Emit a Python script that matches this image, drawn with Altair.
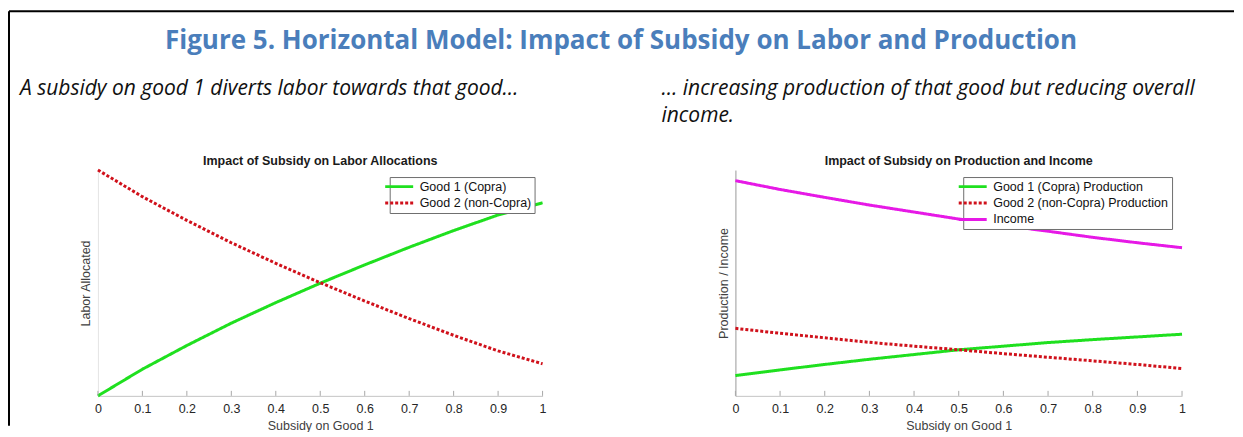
import altair as alt
import pandas as pd

# ---------------- data ----------------
subsidy = [0.0, 0.1, 0.2, 0.3, 0.4, 0.5, 0.6, 0.7, 0.8, 0.9, 1.0]
labor_good1 = [0.0, 0.118, 0.223, 0.322, 0.413, 0.499, 0.580, 0.658, 0.732, 0.801, 0.855]
labor_good2 = [1.0, 0.882, 0.777, 0.678, 0.587, 0.501, 0.420, 0.342, 0.268, 0.199, 0.142]
prod_good1 = [0.090, 0.115, 0.139, 0.162, 0.183, 0.204, 0.220, 0.236, 0.249, 0.261, 0.273]
prod_good2 = [0.299, 0.277, 0.257, 0.237, 0.220, 0.204, 0.187, 0.171, 0.155, 0.139, 0.121]
income = [0.953, 0.914, 0.879, 0.845, 0.814, 0.783, 0.755, 0.729, 0.702, 0.678, 0.656]
x_ticks = [0.0, 0.1, 0.2, 0.3, 0.4, 0.5, 0.6, 0.7, 0.8, 0.9, 1.0]

labor_names = ["Good 1 (Copra)", "Good 2 (non-Copra)"]
prod_names = ["Good 1 (Copra) Production", "Good 2 (non-Copra) Production", "Income"]

main_title = "Figure 5. Horizontal Model: Impact of Subsidy on Labor and Production"
left_caption = "A subsidy on good 1 diverts labor towards that good…"
right_caption_1 = "… increasing production of that good but reducing overall"
right_caption_2 = "income."
left_title = "Impact of Subsidy on Labor Allocations"
right_title = "Impact of Subsidy on Production and Income"

GREEN = "#1fe01f"
RED = "#d0111b"
MAGENTA = "#e619e6"

W1, W2, H = 445, 447, 226
AXFONT = "Liberation Sans"
FS = 12.5
CAPFS = 21


def long_df(names, series):
    rows = []
    for name, vals in zip(names, series):
        for x, v in zip(subsidy, vals):
            rows.append({"x": x, "v": v, "series": name})
    return pd.DataFrame(rows)


def one():
    return alt.Data(values=[{"a": 1}])


def panel(df, names, colors, dashes, width, ytitle, ydomain_color, leg_x, title_text):
    xscale = alt.Scale(domain=[0, 1], nice=False, zero=False)
    yscale = alt.Scale(domain=[0, 1], nice=False, zero=False)
    legend = alt.Legend(
        orient="none", legendX=leg_x, legendY=7, title=None,
        symbolType="M-2.8,0H2.8", symbolSize=100, symbolStrokeWidth=2.8,
        labelFont=AXFONT, labelFontSize=FS, labelColor="#111111", labelLimit=400,
        strokeColor="#6e6e6e", fillColor="white", padding=3, rowPadding=3.5,
        labelOffset=14, offset=0,
    )
    lines = alt.Chart(df).mark_line(strokeWidth=3, strokeCap="butt").encode(
        x=alt.X("x:Q", scale=xscale, axis=alt.Axis(
            title="Subsidy on Good 1", values=x_ticks, format="~g", ticks=False,
            grid=False, labelPadding=7, titlePadding=4, domainColor="#c4c4c4",
            labelColor="#262626", titleColor="#404040", labelFont=AXFONT,
            titleFont=AXFONT, labelFontSize=FS, titleFontSize=FS,
            titleFontWeight="normal", labelFlush=False)),
        y=alt.Y("v:Q", scale=yscale, axis=alt.Axis(
            title=ytitle, labels=False, ticks=False, grid=False,
            domainColor=ydomain_color, titlePadding=5, titleColor="#404040",
            titleFont=AXFONT, titleFontSize=FS, titleFontWeight="normal")),
        color=alt.Color("series:N", scale=alt.Scale(domain=names, range=colors), legend=legend),
        strokeDash=alt.StrokeDash("series:N", scale=alt.Scale(domain=names, range=dashes), legend=legend),
        order=alt.Order("x:Q"),
    )
    ticks = alt.Chart(pd.DataFrame({"x": x_ticks})).mark_rule(color="#a8a8a8", strokeWidth=1).encode(
        x=alt.X("x:Q", scale=xscale), y=alt.value(H), y2=alt.value(H - 5))
    ctitle = alt.Chart(one()).mark_text(
        text=title_text, font=AXFONT, fontSize=FS, fontWeight="bold", color="#1a1a1a",
        align="center", baseline="alphabetic").encode(x=alt.value(width / 2), y=alt.value(-5))
    return [lines, ticks, ctitle]


labor_df = long_df(labor_names, [labor_good1, labor_good2])
prod_df = long_df(prod_names, [prod_good1, prod_good2, income])

left_layers = panel(labor_df, labor_names, [GREEN, RED], [[1, 0], [3, 2]], W1,
                    "Labor Allocated", "#e4e4e4", 292, left_title)
right_layers = panel(prod_df, prod_names, [GREEN, RED, MAGENTA], [[1, 0], [3, 2], [1, 0]], W2,
                     "Production / Income", "#9a9a9a", 228, right_title)

# decorations in left panel coordinates (plot origin at page 98,170)
border_left = alt.Chart(one()).mark_rule(color="black", strokeWidth=2).encode(
    x=alt.value(-89), y=alt.value(-159), y2=alt.value(256))
border_top = alt.Chart(one()).mark_rule(color="black", strokeWidth=2).encode(
    x=alt.value(-89), x2=alt.value(1137), y=alt.value(-159))
title_mark = alt.Chart(one()).mark_text(
    text=main_title, font="Open Sans", fontSize=26, fontWeight="bold", color="#4a7ebb",
    align="center", baseline="alphabetic").encode(x=alt.value(523.5), y=alt.value(-121))
left_cap = alt.Chart(one()).mark_text(
    text=left_caption, font="Open Sans", fontSize=CAPFS, fontStyle="italic", color="#111111",
    align="left", baseline="alphabetic").encode(x=alt.value(-78), y=alt.value(-75))
right_cap1 = alt.Chart(one()).mark_text(
    text=right_caption_1, font="Open Sans", fontSize=CAPFS, fontStyle="italic", color="#111111",
    align="left", baseline="alphabetic").encode(x=alt.value(-74), y=alt.value(-75))
right_cap2 = alt.Chart(one()).mark_text(
    text=right_caption_2, font="Open Sans", fontSize=CAPFS, fontStyle="italic", color="#111111",
    align="left", baseline="alphabetic").encode(x=alt.value(-74), y=alt.value(-48.5))

left = alt.layer(*left_layers, border_left, border_top, title_mark, left_cap).properties(width=W1, height=H)
right = alt.layer(*right_layers, right_cap1, right_cap2).properties(width=W2, height=H)

chart = alt.hconcat(left, right, spacing=193, bounds="flush").resolve_scale(
    color="independent", strokeDash="independent", x="independent", y="independent"
).properties(
    padding={"left": 0, "top": 2, "right": 0, "bottom": 0},
    background="white",
).configure_view(stroke=None)

chart.save("out.html", embed_options={"renderer": "svg", "actions": False})
